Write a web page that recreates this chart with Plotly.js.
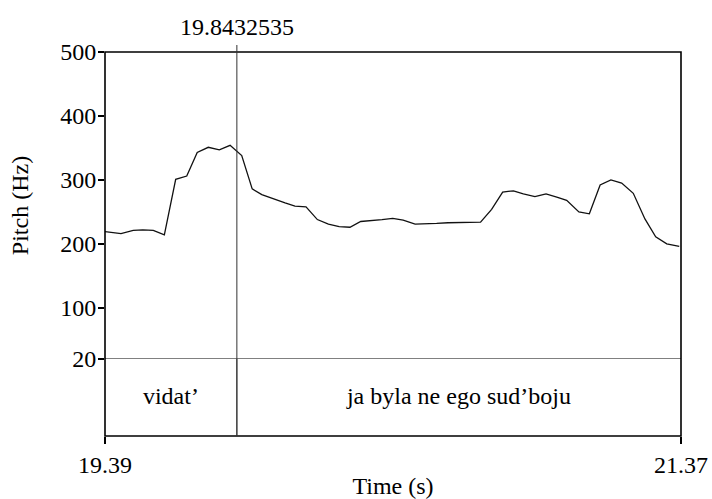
<!DOCTYPE html>
<html>
<head>
<meta charset="utf-8">
<script src="https://cdn.plot.ly/plotly-3.0.1.min.js"></script>
<style>html,body{margin:0;padding:0;background:#fff;}</style>
</head>
<body>
<div id="chart" style="width:712px;height:499px;"></div>
<script>
// Pitch contour (time in s, pitch in Hz)
const times = [19.390,19.445,19.487,19.520,19.556,19.594,19.633,19.671,19.707,19.745,19.783,19.820,19.860,19.896,19.929,19.969,20.009,20.043,20.081,20.120,20.158,20.195,20.232,20.269,20.307,20.342,20.379,20.415,20.456,20.496,20.530,20.569,20.610,20.645,20.681,20.719,20.757,20.794,20.828,20.868,20.906,20.943,20.977,21.019,21.055,21.092,21.129,21.166,21.206,21.246,21.283,21.321,21.364];
const pitch = [219,216,221,222,221,214,301,306,343,351,347,354,338,286,277,270,264,259,258,238,231,227,226,235,236,238,240,237,231,231,232,233,233,234,234,254,281,283,278,274,278,273,268,250,247,292,300,295,279,239,211,200,196];

// Time range and ticks
const timeRange = [19.39, 21.37];
const timeTicks = [19.39, 21.37];
const timeTickLabels = ['19.39', '21.37'];
const pitchRange = [20, 500];
const pitchTicks = [20, 100, 200, 300, 400, 500];
const pitchTickLabels = ['20', '100', '200', '300', '400', '500'];

// Cursor and text tier
const cursorTime = 19.8432535;
const cursorLabel = '19.8432535';
const tierBounds = [19.39, 19.8432535, 21.37];
const tierLabels = ['vidat\u2019', 'ja byla ne ego sud\u2019boju'];

const FONT = 'Liberation Serif, Times New Roman, serif';
const FS = 24;
const tierMid = tierLabels.map((_, i) => (tierBounds[i] + tierBounds[i + 1]) / 2);

const traces = [
  {
    x: times, y: pitch, type: 'scatter', mode: 'lines',
    line: {color: '#111', width: 1.3}, xaxis: 'x', yaxis: 'y',
    hoverinfo: 'skip', showlegend: false
  },
  {
    x: tierMid, y: tierLabels.map(() => 0.5), text: tierLabels,
    type: 'scatter', mode: 'text', textposition: 'middle center',
    textfont: {family: FONT, size: FS, color: '#000'},
    xaxis: 'x', yaxis: 'y2', hoverinfo: 'skip', showlegend: false
  }
];

const split = 77 / 384;
const shapes = [
  {type: 'rect', xref: 'paper', yref: 'paper', x0: 0, x1: 1, y0: 0, y1: 1,
   line: {color: '#000', width: 1.6}},
  {type: 'line', xref: 'paper', yref: 'y', x0: 0, x1: 1, y0: pitchRange[0], y1: pitchRange[0],
   line: {color: '#000', width: 1}},
  {type: 'line', xref: 'x', yref: 'paper', x0: cursorTime, x1: cursorTime, y0: 0, y1: 1 + 7 / 384,
   line: {color: '#333', width: 1}}
];
for (let i = 1; i < tierBounds.length - 1; i++) {
  shapes.push({type: 'line', xref: 'x', yref: 'y2', x0: tierBounds[i], x1: tierBounds[i], y0: 0, y1: 1,
    line: {color: '#333', width: 1}});
}

const layout = {
  width: 712, height: 499,
  margin: {l: 105, r: 31, t: 52, b: 63},
  paper_bgcolor: '#fff', plot_bgcolor: '#fff',
  font: {family: FONT, size: FS, color: '#000'},
  showlegend: false,
  xaxis: {
    range: timeRange, tickvals: timeTicks, ticktext: timeTickLabels,
    ticks: 'outside', ticklen: 7, tickwidth: 1.5, tickcolor: '#000',
    showgrid: false, zeroline: false, showline: false, anchor: 'y2',
    tickfont: {family: FONT, size: FS, color: '#000'},
    title: {text: 'Time (s)', font: {family: FONT, size: FS, color: '#000'}, standoff: 2}
  },
  yaxis: {
    domain: [split, 1], range: pitchRange, tickvals: pitchTicks, ticktext: pitchTickLabels,
    ticks: 'outside', ticklen: 6, tickwidth: 1.5, tickcolor: '#000',
    ticklabelstandoff: -3,
    showgrid: false, zeroline: false, showline: false, anchor: 'x',
    tickfont: {family: FONT, size: FS, color: '#000'},
    title: {text: 'Pitch (Hz)', font: {family: FONT, size: FS, color: '#000'}, standoff: 24}
  },
  yaxis2: {
    domain: [0, split], range: [0, 1], visible: false, anchor: 'x'
  },
  shapes: shapes,
  annotations: [
    {x: cursorTime, xref: 'x', y: 1, yref: 'paper', yanchor: 'bottom', yshift: 10,
     text: cursorLabel, showarrow: false, font: {family: FONT, size: FS, color: '#000'}}
  ]
};

Plotly.newPlot('chart', traces, layout, {displayModeBar: false, staticPlot: true});
</script>
</body>
</html>
